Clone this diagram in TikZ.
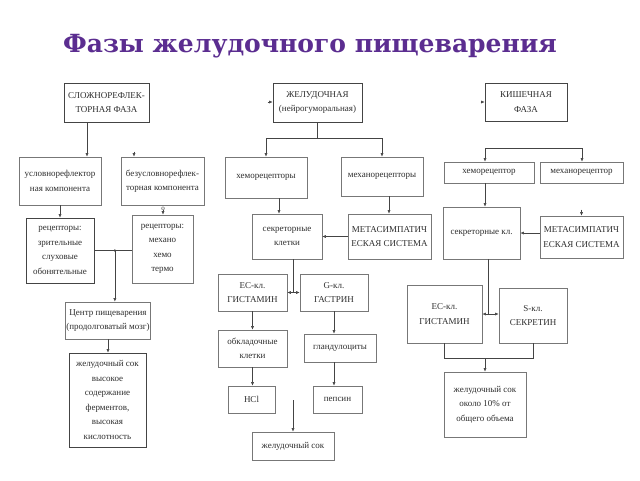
\documentclass[tikz,border=0pt]{standalone}
\usepackage{fontspec}
\setmainfont{Liberation Serif}
\newfontfamily\titlefont{DejaVu Serif}
\usetikzlibrary{arrows.meta}
\definecolor{ttl}{HTML}{5B2D90}
\definecolor{bord}{HTML}{777777}
\definecolor{dbord}{HTML}{444444}
\definecolor{lnc}{HTML}{444444}
\definecolor{txt}{HTML}{2E2E2E}
\tikzset{
  box/.style={draw=bord, line width=0.75pt, align=center, inner sep=1pt, text=txt,
    font=\fontsize{9}{14.5}\selectfont},
  dark/.style={draw=dbord},
  arr/.style={draw=lnc, line width=0.5pt, -{Latex[length=3.5pt,width=3pt]}},
  lin/.style={draw=lnc, line width=0.5pt},
}
\newcommand\bx[7][]{\node[box,#1,minimum width={#5pt-#3pt},minimum height={#6pt-#4pt}] (#2) at ({(#3+#5)/2},{(#4+#6)/2}) {#7};}
\begin{document}
\begin{tikzpicture}[x=1pt,y=-1pt]
\fill[white] (0,0) rectangle (640,480);
\useasboundingbox (0,0) rectangle (640,480);
\node[font=\titlefont\bfseries\fontsize{25}{30}\selectfont, text=ttl] (title) at (310,46) {Фазы желудочного пищеварения};
% column 1
\bx[dark]{b1}{64}{83}{149}{122}{СЛОЖНОРЕФЛЕК-\\ТОРНАЯ ФАЗА}
\bx{b2}{19}{157}{101}{205}{условнорефлектор\\ная компонента}
\bx{b3}{121}{157}{204}{205}{безусловнорефлек-\\торная компонента}
\bx[dark]{b4}{26}{218}{94}{283}{рецепторы:\\зрительные\\слуховые\\обонятельные}
\bx{b5}{132}{215}{193}{283}{рецепторы:\\механо\\хемо\\термо}
\bx{b6}{67}{302}{149}{339}{Центр пищеварения\\(продолговатый мозг)}
\bx[dark]{b7}{69}{353}{146}{447}{желудочный сок\\высокое\\содержание\\ферментов,\\высокая\\кислотность}
% column 2
\bx[dark]{c1}{273}{83}{362}{122}{ЖЕЛУДОЧНАЯ\\(нейрогуморальная)}
\bx{c2}{225}{157}{307}{198}{хеморецепторы}
\bx{c3}{341}{157}{423}{196}{механорецепторы}
\bx{c4}{252}{214}{322}{259}{секреторные\\клетки}
\bx{c5}{348}{214}{431}{259}{МЕТАСИМПАТИЧ\\ЕСКАЯ СИСТЕМА}
\bx{c6}{218}{274}{287}{311}{ЕС-кл.\\ГИСТАМИН}
\bx{c7}{300}{274}{368}{311}{G-кл.\\ГАСТРИН}
\bx{c8}{218}{330}{287}{367}{обкладочные\\клетки}
\bx{c9}{228}{386}{275}{413}{HCl}
\bx{c10}{304}{334}{376}{362}{гландулоциты}
\bx{c11}{313}{386}{362}{413}{пепсин}
\bx{c12}{252}{432}{334}{460}{желудочный сок}
% column 3
\bx[dark]{d1}{485}{83}{567}{121}{КИШЕЧНАЯ\\ФАЗА}
\bx{d2}{444}{162}{534}{183}{хеморецептор}
\bx{d3}{540}{162}{623}{183}{механорецептор}
\bx{d4}{443}{207}{520}{259}{секреторные кл.}
\bx{d5}{540}{216}{623}{258}{МЕТАСИМПАТИЧ\\ЕСКАЯ СИСТЕМА}
\bx{d6}{407}{285}{482}{343}{ЕС-кл.\\ГИСТАМИН}
\bx{d7}{499}{288}{567}{343}{S-кл.\\СЕКРЕТИН}
\bx{d8}{444}{372}{526}{437}{желудочный сок\\около 10\% от\\общего объема}
% connectors column 1
\draw[arr] ([xshift=-19.5pt]b1.south) -- ([xshift=-19.5pt]b1.south |- b2.north);
\coordinate (s1) at (134,151.5);
\draw[arr] (s1) -- (s1 |- b3.north);
\node[font=\fontsize{7}{8}\selectfont, text=txt, inner sep=0pt] (o1) at (163,208.5) {о};
\draw[arr] (o1.south) -- (o1.south |- b5.north);
\draw[arr] (b2.south) -- (b2.south |- b4.north);
\draw[lin] (b4.east) -- (b4.east -| b5.west) coordinate[pos=0.55] (j1);
\fill[lnc] (j1) circle (1.3);
\draw[arr] (j1) -- (j1 |- b6.north);
\draw[arr] (b6.south) -- (b6.south |- b7.north);
% connectors column 2
\coordinate (s2) at (267.5,102);
\draw[arr] (s2) -- (s2 -| c1.west);
\coordinate (k0) at ([yshift=-16pt]c1.south);
\draw[lin] (c1.south) -- (k0);
\draw[arr] (k0) -| (c2.north);
\draw[arr] (k0) -| (c3.north);
\draw[arr] ([xshift=13pt]c2.south) -- ([xshift=13pt]c2.south |- c4.north);
\draw[arr] ([xshift=7pt]c3.south) -- ([xshift=7pt]c3.south |- c5.north);
\draw[arr] (c5.west) -- (c5.west -| c4.east);
\coordinate (j2) at ([xshift=6pt]c4.south |- c6.east);
\draw[lin] ([xshift=6pt]c4.south) -- (j2);
\draw[arr] (j2) -- (c6.east);
\draw[arr] (j2) -- (c7.west |- j2);
\draw[arr] (c6.south) -- (c6.south |- c8.north);
\draw[arr] (c8.south) -- (c8.south |- c9.north);
\draw[arr] (c7.south) -- (c7.south |- c10.north);
\draw[arr] (c7.south |- c10.south) -- (c7.south |- c11.north);
\coordinate (s3) at (293,400);
\draw[arr] (s3) -- (s3 |- c12.north);
% connectors column 3
\coordinate (s4) at (480.5,102);
\draw[arr] (s4) -- (s4 -| d1.west);
\coordinate (s5) at (485,148);
\coordinate (s6) at (582,148);
\draw[lin] (s5) -- (s6);
\draw[arr] (s5) -- (s5 |- d2.north);
\draw[arr] (s6) -- (s6 |- d3.north);
\draw[arr] ([xshift=-4pt]d2.south) -- ([xshift=-4pt]d2.south |- d4.north);
\coordinate (s7) at ([yshift=6pt]d5.north);
\draw[arr] (s7) -- (d5.north);
\draw[arr] (d5.west |- d4.east) -- (d4.east);
\coordinate (j3) at ([xshift=6.5pt]d4.south |- d6.east);
\draw[lin] ([xshift=6.5pt]d4.south) -- (j3);
\draw[arr] (j3) -- (d6.east);
\draw[arr] (j3) -- (d7.west |- j3);
\coordinate (k1) at ([yshift=-15pt]d6.south);
\draw[lin] (d6.south) -- (k1) -| (d7.south);
\draw[arr] (k1 -| d8.north) -- (d8.north);
\end{tikzpicture}
\end{document}
